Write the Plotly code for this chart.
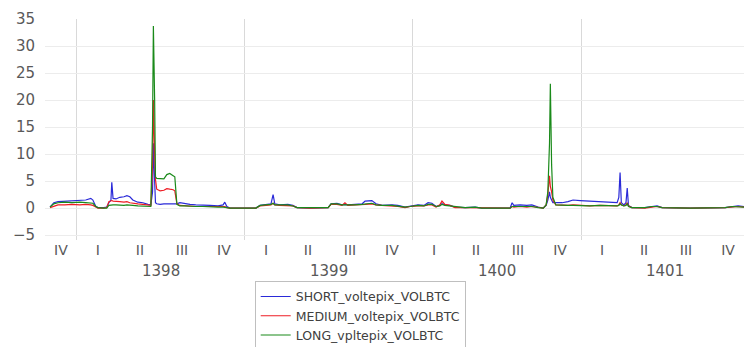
import plotly.graph_objects as go

# time in quarters since the start of 1398 (negative = late 1397)
t = [-0.64, -0.55, -0.45, -0.29, -0.12, 0.07, 0.21, 0.33, 0.38, 0.45, 0.5, 0.64, 0.71, 0.76, 0.81,
     0.83, 0.86, 0.93, 1.02, 1.12, 1.19, 1.26, 1.33, 1.45, 1.57, 1.69, 1.76, 1.80, 1.82, 1.85,
     1.87, 1.90, 1.98, 2.07, 2.14, 2.21, 2.29, 2.33, 2.38, 2.45, 2.57, 2.69, 2.83, 3.0, 3.17,
     3.36, 3.48, 3.52, 3.57, 3.64, 4.26, 4.36, 4.5, 4.62, 4.67, 4.71, 4.83, 5.02, 5.14, 5.24,
     5.55, 5.98, 6.05, 6.19, 6.31, 6.38, 6.45, 6.62, 6.79, 6.86, 7.02, 7.12, 7.26, 7.5, 7.64,
     7.81, 7.93, 8.12, 8.26, 8.36, 8.45, 8.55, 8.64, 8.69, 8.76, 8.88, 9.0, 9.24, 9.48, 9.64,
     10.31, 10.36, 10.40, 10.55, 10.71, 10.83, 10.98, 11.10, 11.17, 11.21, 11.25, 11.27, 11.30, 11.33, 11.40,
     11.55, 11.69, 11.81, 11.98, 12.21, 12.45, 12.64, 12.86, 12.90, 12.93, 12.96, 13.02, 13.07, 13.10, 13.13,
     13.21, 13.52, 13.69, 13.81, 13.93, 14.60, 15.43, 15.60, 15.74, 15.88]

short_vals = [0.2, 1.0, 1.2, 1.3, 1.3, 1.4, 1.5, 1.8, 1.5, 0.3, 0.1, 0.1, 0.2, 1.0, 1.5,
              4.8, 1.8, 1.7, 2.0, 2.1, 2.3, 2.1, 1.5, 1.1, 1.0, 0.7, 0.6, 3.0, 12.0, 5.0,
              1.0, 0.8, 0.7, 0.8, 0.8, 0.8, 0.7, 0.7, 0.8, 1.0, 0.8, 0.7, 0.6, 0.6, 0.5,
              0.4, 0.6, 1.1, 0.3, 0.0, 0.0, 0.5, 0.6, 0.8, 2.5, 0.8, 0.6, 0.7, 0.5, 0.1,
              0.0, 0.1, 0.8, 0.9, 0.6, 0.7, 0.6, 0.7, 0.8, 1.3, 1.4, 0.8, 0.5, 0.6, 0.5,
              0.2, 0.4, 0.6, 0.5, 1.0, 0.9, 0.3, 0.5, 0.8, 0.6, 0.5, 0.2, 0.1, 0.2, 0.0,
              0.0, 1.0, 0.5, 0.6, 0.5, 0.6, 0.2, 0.0, 0.5, 1.5, 3.0, 2.0, 1.5, 1.0, 1.0,
              1.0, 1.2, 1.5, 1.4, 1.3, 1.3, 1.1, 1.0, 2.0, 6.6, 1.0, 0.6, 1.0, 3.7, 0.5,
              0.1, 0.1, 0.3, 0.4, 0.1, 0.0, 0.1, 0.3, 0.4, 0.3]

medium_vals = [0.1, 0.4, 0.6, 0.6, 0.7, 0.6, 0.7, 0.6, 0.5, 0.2, 0.0, 0.0, 0.1, 1.2, 1.3,
               1.4, 1.3, 1.3, 1.2, 1.1, 1.2, 1.0, 0.9, 0.8, 0.7, 0.5, 0.5, 8.0, 20.0, 10.0,
               5.3, 3.5, 3.2, 3.3, 3.6, 3.5, 3.4, 3.2, 0.8, 0.5, 0.4, 0.4, 0.3, 0.3, 0.3,
               0.2, 0.2, 0.3, 0.1, 0.0, 0.0, 0.4, 0.5, 0.6, 0.9, 0.6, 0.5, 0.5, 0.4, 0.1,
               0.0, 0.1, 0.7, 0.7, 0.5, 1.0, 0.5, 0.6, 0.6, 0.7, 0.8, 0.6, 0.5, 0.4, 0.3,
               0.1, 0.3, 0.4, 0.4, 0.6, 0.6, 0.2, 0.6, 1.3, 0.7, 0.5, 0.1, 0.1, 0.1, 0.0,
               0.0, 0.3, 0.2, 0.3, 0.2, 0.3, 0.1, 0.0, 0.6, 2.5, 6.0, 4.0, 3.0, 1.5, 0.6,
               0.5, 0.5, 0.6, 0.5, 0.4, 0.5, 0.4, 0.4, 0.6, 1.0, 0.6, 0.4, 0.6, 1.0, 0.4,
               0.1, 0.0, 0.2, 0.3, 0.1, 0.0, 0.1, 0.2, 0.3, 0.2]

long_vals = [0.2, 0.8, 1.0, 1.1, 1.0, 1.1, 1.0, 1.0, 0.9, 0.3, 0.1, 0.0, 0.0, 0.5, 0.6,
             0.6, 0.6, 0.6, 0.5, 0.5, 0.6, 0.5, 0.5, 0.4, 0.4, 0.3, 0.3, 15.0, 33.7, 20.0,
             5.8, 5.5, 5.4, 5.4, 6.2, 6.4, 6.0, 5.8, 0.7, 0.4, 0.4, 0.3, 0.3, 0.3, 0.2,
             0.2, 0.2, 0.2, 0.1, 0.0, 0.0, 0.5, 0.6, 0.7, 0.9, 0.6, 0.6, 0.6, 0.4, 0.1,
             0.1, 0.1, 0.8, 0.8, 0.6, 0.6, 0.5, 0.6, 0.7, 0.8, 0.9, 0.6, 0.5, 0.5, 0.4,
             0.2, 0.3, 0.5, 0.4, 0.7, 0.7, 0.3, 0.4, 0.7, 0.5, 0.4, 0.2, 0.1, 0.2, 0.0,
             0.0, 0.3, 0.3, 0.3, 0.3, 0.3, 0.1, 0.0, 0.6, 3.0, 12.0, 23.0, 8.0, 2.0, 0.6,
             0.5, 0.5, 0.5, 0.4, 0.4, 0.5, 0.4, 0.4, 0.5, 0.8, 0.6, 0.4, 0.5, 0.8, 0.3,
             0.1, 0.1, 0.3, 0.3, 0.1, 0.0, 0.1, 0.3, 0.3, 0.2]

quarter_pos = [-0.38, 0.5, 1.5, 2.5, 3.5, 4.5, 5.5, 6.5, 7.5, 8.5, 9.5, 10.5, 11.5, 12.5, 13.5, 14.5, 15.5]
quarter_labels = ["IV", "I", "II", "III", "IV", "I", "II", "III", "IV", "I", "II", "III", "IV", "I", "II", "III", "IV"]
year_pos = [2, 6, 10, 14]
year_labels = ["1398", "1399", "1400", "1401"]
year_bounds = [0, 4, 8, 12]

series = [
    ("SHORT_voltepix_VOLBTC", short_vals, "#2a2ad8"),
    ("MEDIUM_voltepix_VOLBTC", medium_vals, "#ee1c24"),
    ("LONG_vpltepix_VOLBTC", long_vals, "#1a8a1a"),
]

fig = go.Figure()
for name, vals, col in series:
    fig.add_trace(go.Scatter(x=t, y=vals, mode="lines", name=name,
                             line=dict(color=col, width=1.2)))

font = "DejaVu Sans"
fig.update_layout(
    width=744, height=347,
    margin=dict(l=45, r=0, t=19, b=107, autoexpand=False),
    paper_bgcolor="white", plot_bgcolor="white",
    font=dict(family=font, color="#595959"),
    showlegend=True,
    legend=dict(x=0.30, y=-0.185, xanchor="left", yanchor="top",
                bordercolor="#bfbfbf", borderwidth=1, bgcolor="white",
                font=dict(size=12.5, color="#404040", family=font),
                tracegroupgap=0),
    xaxis=dict(range=[-0.76, 15.88], tickmode="array", tickvals=quarter_pos,
               ticktext=quarter_labels, showgrid=False, zeroline=False,
               automargin=False,
               tickfont=dict(size=14, color="#595959"), ticks="",
               minor=dict(tickmode="array", tickvals=year_bounds, showgrid=True,
                          gridcolor="#d9d9d9", gridwidth=1, ticks="")),
    yaxis=dict(range=[-5.9, 35], tickmode="array", tickvals=[-5, 0, 5, 10, 15, 20, 25, 30, 35],
               showgrid=True, gridcolor="#ececec", zeroline=False,
               automargin=False,
               tickfont=dict(size=15, color="#595959"),
               ticks="outside", ticklen=6, tickcolor="rgba(0,0,0,0)"),
)

for xp, lab in zip(year_pos, year_labels):
    fig.add_annotation(x=xp, xref="x", y=-0.14, yref="paper", text=lab,
                       showarrow=False, font=dict(size=15, color="#595959", family=font),
                       yanchor="middle")

fig.write_html("out.html", config={"displayModeBar": False},
               post_script="document.body.style.margin='0px';")
